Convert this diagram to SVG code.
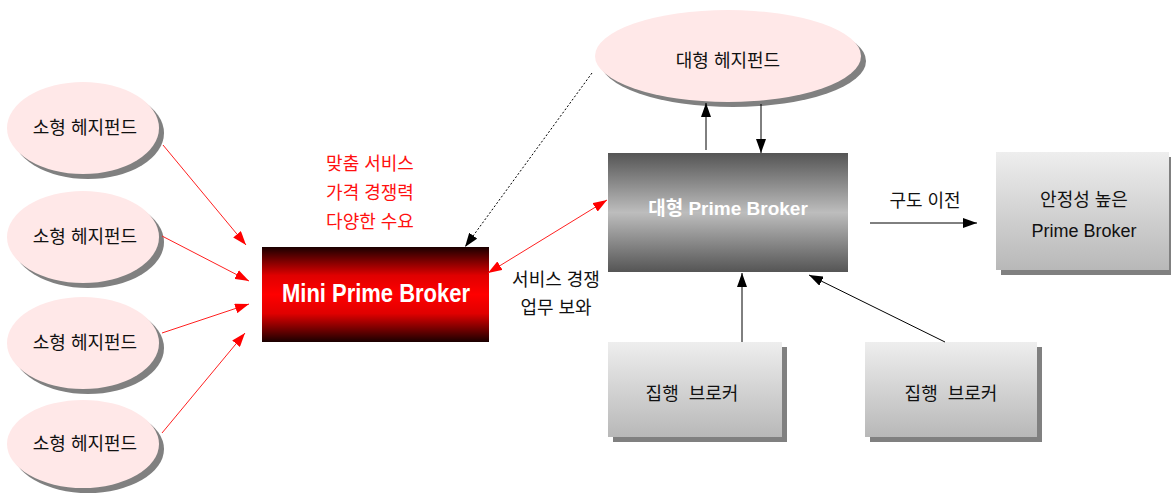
<svg xmlns="http://www.w3.org/2000/svg" width="1171" height="502" viewBox="0 0 1171 502">
<style>
text{font-family:"Liberation Sans","Noto Sans CJK KR",sans-serif;text-anchor:middle}
.lbl{font-size:18px;fill:#111}
.red{font-size:18px;fill:#ff1010}
.ell{fill:#ffe8e8}
.sh{fill:#808080}
.lb{fill:url(#gLight)}
.wb{font-weight:bold;fill:#fff}
.ra{stroke:#ff2020;stroke-width:1;fill:none;marker-end:url(#mRed)}
.ba{stroke:#000;stroke-width:1;fill:none;marker-end:url(#mBlk)}
</style>
<defs>
<linearGradient id="gRed" x1="0" y1="0" x2="0" y2="1">
<stop offset="0" stop-color="#1a0000"/><stop offset="0.3" stop-color="#e00000"/><stop offset="0.5" stop-color="#ff0000"/><stop offset="0.7" stop-color="#e00000"/><stop offset="1" stop-color="#1a0000"/>
</linearGradient>
<linearGradient id="gGray" x1="0" y1="0" x2="0" y2="1">
<stop offset="0" stop-color="#555"/><stop offset="0.5" stop-color="#bdbdbd"/><stop offset="1" stop-color="#555"/>
</linearGradient>
<linearGradient id="gLight" x1="0" y1="0" x2="0" y2="1">
<stop offset="0" stop-color="#eeeeee"/><stop offset="1" stop-color="#b8b8b8"/>
</linearGradient>
<marker id="mRed" viewBox="0 0 14 10" refX="14" refY="5" markerWidth="14" markerHeight="10" markerUnits="userSpaceOnUse" orient="auto-start-reverse"><path d="M0,0L14,5L0,10z" fill="#ff0000"/></marker>
<marker id="mBlk" viewBox="0 0 14 10" refX="14" refY="5" markerWidth="14" markerHeight="10" markerUnits="userSpaceOnUse" orient="auto-start-reverse"><path d="M0,0L14,5L0,10z" fill="#000"/></marker>
</defs>

<g id="small1"><ellipse class="sh" cx="88" cy="133" rx="76" ry="46"/><ellipse class="ell" cx="83" cy="128" rx="76" ry="46"/><text class="lbl" x="85" y="134">소형 헤지펀드</text></g>
<g id="small2"><ellipse class="sh" cx="88" cy="242" rx="76" ry="46"/><ellipse class="ell" cx="83" cy="237" rx="76" ry="46"/><text class="lbl" x="85" y="243">소형 헤지펀드</text></g>
<g id="small3"><ellipse class="sh" cx="88" cy="348" rx="76" ry="46"/><ellipse class="ell" cx="83" cy="343" rx="76" ry="46"/><text class="lbl" x="85" y="349">소형 헤지펀드</text></g>
<g id="small4"><ellipse class="sh" cx="88" cy="449" rx="76" ry="44"/><ellipse class="ell" cx="83" cy="444" rx="76" ry="44"/><text class="lbl" x="85" y="450">소형 헤지펀드</text></g>

<g id="large-hf"><ellipse class="sh" cx="733" cy="61" rx="133" ry="46"/><ellipse class="ell" cx="728" cy="56" rx="133" ry="46"/><text class="lbl" x="728" y="67">대형 헤지펀드</text></g>

<g id="mini-pb"><rect x="262" y="247" width="227" height="95" fill="url(#gRed)"/><text class="wb" x="376" y="302" font-size="25" textLength="188" lengthAdjust="spacingAndGlyphs">Mini Prime Broker</text></g>

<g id="mini-notes"><text class="red" x="370" y="170">맞춤 서비스</text><text class="red" x="370" y="199">가격 경쟁력</text><text class="red" x="370" y="228">다양한 수요</text></g>

<g id="large-pb"><rect x="608" y="153" width="240" height="119" fill="url(#gGray)"/><text class="wb" x="728" y="215" font-size="19">대형 Prime Broker</text></g>

<g id="stable-pb"><rect class="sh" x="1001" y="157" width="173" height="118"/><rect class="lb" x="996" y="152" width="173" height="118"/><text class="lbl" x="1084" y="206">안정성 높은</text><text class="lbl" x="1084" y="237" font-size="17.5">Prime Broker</text></g>

<g id="exec1"><rect class="sh" x="613" y="347" width="174" height="95"/><rect class="lb" x="608" y="342" width="174" height="95"/><text class="lbl" x="692" y="400" word-spacing="5">집행 브로커</text></g>
<g id="exec2"><rect class="sh" x="870" y="347" width="172" height="95"/><rect class="lb" x="865" y="342" width="172" height="95"/><text class="lbl" x="951" y="400" word-spacing="5">집행 브로커</text></g>

<g id="labels"><text class="lbl" x="925" y="207">구도 이전</text><text class="lbl" x="556" y="286">서비스 경쟁</text><text class="lbl" x="556" y="314">업무 보와</text></g>

<g id="connectors">
<line class="ra" x1="163" y1="145" x2="246" y2="245"/>
<line class="ra" x1="162" y1="236" x2="249" y2="281"/>
<line class="ra" x1="162" y1="333" x2="249" y2="304"/>
<line class="ra" x1="162" y1="433" x2="245" y2="333"/>
<line class="ra" x1="488" y1="273" x2="607" y2="200" marker-start="url(#mRed)"/>
<line class="ba" x1="592" y1="73" x2="465" y2="247" stroke-dasharray="2,2"/>
<line class="ba" x1="706" y1="150" x2="706" y2="103" stroke="#999"/>
<line class="ba" x1="761" y1="104" x2="761" y2="153"/>
<line class="ba" x1="870" y1="223" x2="977" y2="223"/>
<line class="ba" x1="742" y1="342" x2="742" y2="273" stroke="#555"/>
<line class="ba" x1="945" y1="342" x2="809" y2="275"/>
</g>
</svg>
